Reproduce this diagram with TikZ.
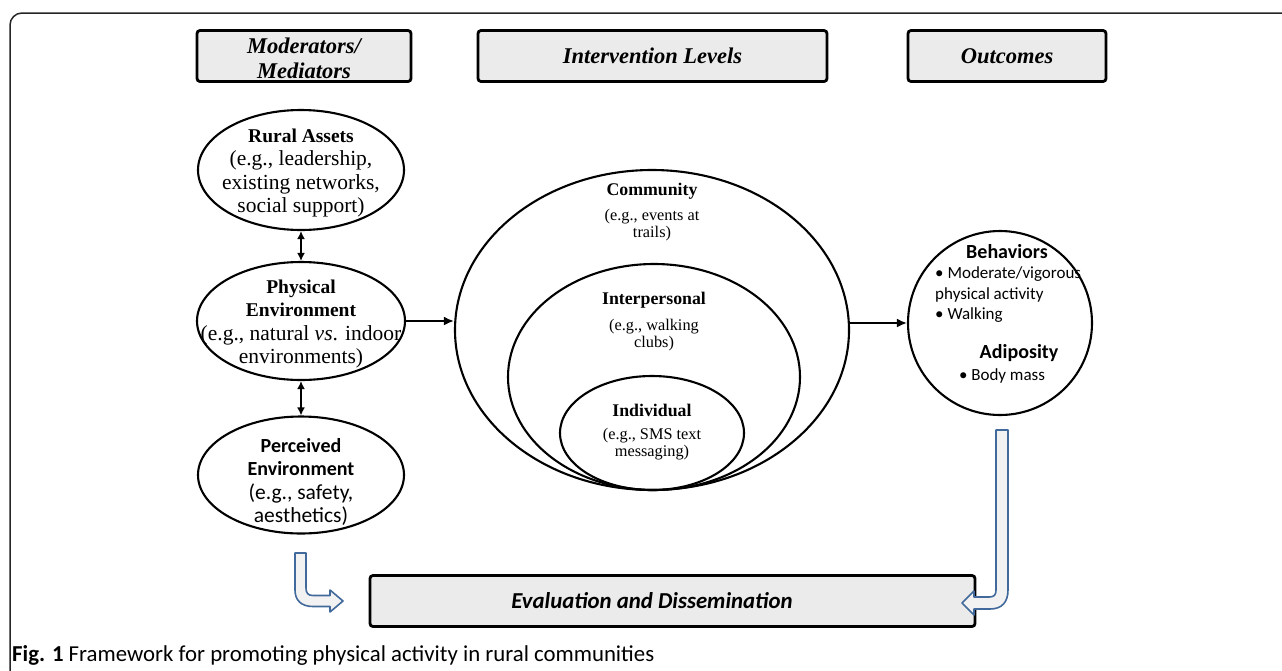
\documentclass[tikz,border=0pt]{standalone}
\usepackage{fontspec}
\setmainfont{Liberation Serif}
\newfontfamily\calfont{Carlito}
\usetikzlibrary{shapes.geometric,arrows.meta}
\definecolor{blueline}{RGB}{65,105,155}
\begin{document}
\begin{tikzpicture}[x=1pt,y=-1pt,
  hdr/.style={draw=black, line width=2.8pt, rounded corners=3pt, fill=black!8, minimum height=51pt, inner sep=0pt, font=\fontsize{22.5}{25}\selectfont\bfseries\itshape, align=center},
  oval/.style={ellipse, draw=black, line width=2.1pt, inner sep=0pt},
  sertext/.style={font=\fontsize{21.5}{23.5}\selectfont, align=center, inner sep=0pt},
  caltext/.style={font=\calfont\fontsize{21.5}{23.5}\selectfont, align=center, inner sep=0pt},
  lvltitle/.style={font=\fontsize{17.8}{18}\selectfont\bfseries, inner sep=0pt},
  lvltext/.style={font=\fontsize{16.3}{17.5}\selectfont, align=center, inner sep=0pt},
  conn/.style={line width=2.2pt, -{Latex[length=10pt,width=9pt]}},
  dconn/.style={line width=2.2pt, {Latex[length=8pt,width=8pt]}-{Latex[length=8pt,width=8pt]}},
  blk/.style={draw=blueline, line width=1.6pt, fill=black!5, line join=round},
  outtext/.style={font=\calfont\fontsize{17}{20.5}\selectfont, inner sep=0pt},
  outtitle/.style={font=\calfont\fontsize{20}{20}\selectfont\bfseries, inner sep=0pt}
]
\useasboundingbox (0,0) rectangle (1282,670);
\clip (0,0) rectangle (1282,670);
\fill[white] (0,0) rectangle (1282,670);
% frame
\draw[line width=1.5pt, black!85, rounded corners=12pt] (10,720) -- (10,13) -- (1320,13);

% headers
\node[hdr, minimum width=214pt] (hmod) at (304,56) {};
\node[font=\fontsize{22.5}{25}\selectfont\bfseries\itshape, align=center, inner sep=0pt] (hmodt) at (304,58) {Moderators/\\Mediators};
\node[hdr, minimum width=349pt] (hint) at (652.5,56) {Intervention Levels};
\node[hdr, minimum width=198pt] (hout) at (1007,56) {Outcomes};

% left ovals
\node[oval, minimum width=206pt, minimum height=120pt] (rural) at (301,170) {};
\node[oval, minimum width=208pt, minimum height=118pt] (phys) at (301,321) {};
\node[oval, minimum width=206pt, minimum height=117pt] (perc) at (301,475) {};

\node[sertext] (ruralt) at (301,173)
  {{\fontsize{19.5}{23.5}\selectfont\bfseries Rural Assets}\\(e.g., leadership,\\existing networks,\\social support)};
\node[sertext] (physt) at (301,324)
  {{\fontsize{19.5}{23.5}\selectfont\bfseries Physical}\\{\fontsize{19.5}{23.5}\selectfont\bfseries Environment}\\(e.g., natural \textit{vs}. indoor\\environments)};
\node[caltext] (perct) at (301,482)
  {{\fontsize{20}{23.5}\selectfont\bfseries Perceived}\\{\fontsize{20}{23.5}\selectfont\bfseries Environment}\\(e.g., safety,\\aesthetics)};

\draw[dconn] (rural.south) -- (phys.north);
\draw[dconn] (phys.south) -- (perc.north);

% intervention levels
\node[oval, minimum width=394pt, minimum height=320pt] (comm) at (652,330) {};
\node[oval, minimum width=292pt, minimum height=226pt] (inter) at (654,377) {};
\node[oval, minimum width=184pt, minimum height=114pt] (indiv) at (652,433) {};

\node[lvltitle] (commt) at (652,191) {Community};
\node[lvltext] (commd) at (652,225) {(e.g., events at\\trails)};
\node[lvltitle] (intert) at (654,300) {Interpersonal};
\node[lvltext] (interd) at (654,335) {(e.g., walking\\clubs)};
\node[lvltitle] (indivt) at (652,410) {Individual};
\node[lvltext] (indivd) at (652,444) {(e.g., SMS text\\messaging)};

% outcomes
\node[circle, draw, line width=2.1pt, minimum size=184pt, inner sep=0pt] (beh) at (1000,323) {};
\node[outtitle] (beht) at (1007,252) {Behaviors};
\node[outtext, align=left, anchor=west] (behd) at (935,295) {\textbullet{} Moderate/vigorous\\physical activity\\\textbullet{} Walking};
\node[outtitle] (adit) at (1019,353) {Adiposity};
\node[outtext] (adid) at (1002,376) {\textbullet{} Body mass};

\draw[conn] (phys.east) -- (phys.east -| comm.west);
\draw[conn] (beh.west -| comm.east) -- (beh.west);

% evaluation
\node[hdr, minimum width=605pt] (eval) at (672.5,601) {};
\node[font=\calfont\fontsize{22.8}{24}\selectfont\bfseries\itshape, inner sep=0pt] (evalt) at (652,601) {Evaluation and Dissemination};

% block arrows
\draw[blk] (295,553) -- (306,553) -- (306,588) .. controls (306,593) and (308,595.5) .. (313,595.5)
  -- (330,595.5) -- (330,590) -- (343,601) -- (330,612) -- (330,606.5) -- (313,606.5)
  .. controls (301,606.5) and (295,600) .. (295,590) -- cycle;
\draw[blk] (996,430) -- (1008,430) -- (1008,590) .. controls (1008,602) and (1002,609) .. (990,609)
  -- (974,609) -- (974,615) -- (962,603) -- (974,591) -- (974,597) -- (989,597)
  .. controls (994,597) and (996,595) .. (996,590) -- cycle;

% caption
\node[anchor=west, inner sep=0pt, font=\calfont\fontsize{22.8}{24}\selectfont] (cap) at (12,655)
  {\textbf{Fig. 1} Framework for promoting physical activity in rural communities};
\end{tikzpicture}
\end{document}
